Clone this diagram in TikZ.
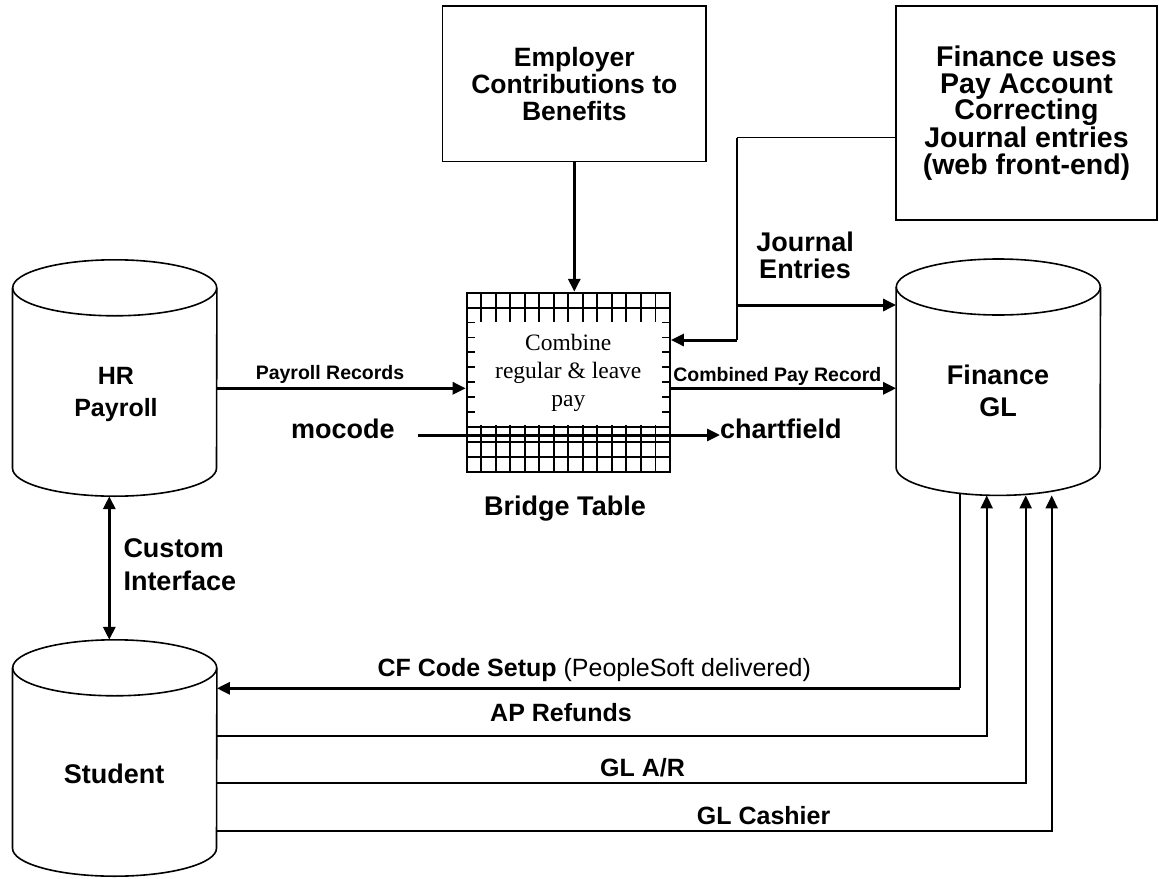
\documentclass[tikz,border=0pt]{standalone}
\usepackage{fontspec}
\setmainfont{Liberation Sans}
\newfontfamily\romanface{Liberation Serif}
\usetikzlibrary{arrows.meta}

\newcommand{\fsz}[2]{\fontsize{#1}{#2}\selectfont}
\newcommand{\dbdraw}[1]{%
  \draw[dbline] ([yshift=-28pt]#1.north west) -- ([yshift=28pt]#1.south west)
    arc[start angle=180,end angle=360,x radius=102pt,y radius=28pt]
    -- ([yshift=-28pt]#1.north east);
  \draw[dbline] ([yshift=-28pt]#1.north) ellipse[x radius=102pt,y radius=28pt];}

\begin{document}
\begin{tikzpicture}[x=1pt,y=-1pt,
    flow/.style={line width=3pt,-{Triangle[length=13pt,width=12pt]}},
    retflow/.style={line width=2.2pt,-{Triangle[length=13pt,width=12pt]}},
    twoway/.style={line width=3pt,{Triangle[length=13pt,width=12pt]}-{Triangle[length=13pt,width=12pt]}},
    plainline/.style={line width=2pt},
    dbbody/.style={minimum width=204pt,minimum height=236pt,inner sep=0pt},
    dbline/.style={line width=1.6pt},
    srcbox/.style={draw,line width=1.6pt,align=center,inner sep=0pt},
    gridline/.style={line width=1.9pt},
    biglabel/.style={font=\bfseries\fsz{27}{27},inner sep=0pt},
    smalllabel/.style={font=\bfseries\fsz{19.5}{19.5},inner sep=0pt},
    flowlabel/.style={font=\bfseries\fsz{25}{25},inner sep=0pt}]
  \useasboundingbox (0,0) rectangle (1159,878);

  % source boxes
  \node[srcbox,minimum width=263.3pt,minimum height=155.7pt,font=\bfseries\fsz{26.5}{27}] (emp) at (574.3,83.8)
    {Employer\\Contributions to\\Benefits};
  \node[srcbox,minimum width=261pt,minimum height=214pt,font=\bfseries\fsz{28.5}{26.6}] (fbox) at (1026.5,113)
    {Finance uses\\Pay Account\\Correcting\\Journal entries\\(web front-end)};

  % databases
  \node[dbbody] (hr) at (114.7,378) {};
  \node[dbbody] (fin) at (998.3,377.2) {};
  \node[dbbody] (stu) at (114.7,758) {};
  \foreach \db in {hr,fin,stu} {\dbdraw{\db}}
  \node[align=center,inner sep=0pt,font=\bfseries\fsz{25}{31.5}] (hrname) at (116,394.5) {HR\\Payroll};
  \node[align=center,inner sep=0pt,font=\bfseries\fsz{27}{32.5}] (finname) at (998,390.7) {Finance\\GL};
  \node[biglabel,anchor=base] (stuname) at (114,783) {Student};

  % bridge table
  \node[draw,line width=1.9pt,minimum width=203.3pt,minimum height=179pt,inner sep=0pt] (bridge) at (568.3,382.2) {};
  \foreach \c in {1,...,13}
    \draw[gridline] ({466.7+\c*14.52},292.7) -- ({466.7+\c*14.52},471.7);
  \foreach \r in {1,...,11}
    \draw[gridline] (466.7,{292.7+\r*14.92}) -- (670,{292.7+\r*14.92});
  \node[fill=white,minimum width=187.5pt,minimum height=103pt,inner sep=0pt,align=center,
    font=\romanface\fsz{23.5}{28.3}] (combine) at (568.3,373) {Combine\\regular \& leave\\pay};
  \node[biglabel,anchor=base] (bridgename) at (565,515) {Bridge Table};

  % payroll feed
  \draw[flow] (emp.south) -- (emp.south |- bridge.north);
  \coordinate (prout) at ([yshift=-10.3pt]hr.east);
  \draw[flow] (prout) -- (prout -| bridge.west);
  \node[smalllabel,anchor=base] (prname) at (330,379.3) {Payroll Records};
  \coordinate (cprout) at ([yshift=-6.1pt]bridge.east);
  \draw[flow] (cprout) -- (cprout -| fin.west);
  \node[smalllabel,anchor=base] (cprname) at (777.3,381.7) {Combined Pay Record};
  \node[biglabel,anchor=base] (mocode) at (342.8,438.3) {mocode};
  \node[biglabel,anchor=base west] (chart) at (720,438.3) {chartfield};
  \coordinate (mocodeout) at (418.3,435);
  \draw[flow] (mocodeout) -- (mocodeout -| chart.west);

  % journal entries
  \coordinate (jtop) at (736.7,137.7);
  \coordinate (jmid) at (736.7,305);
  \coordinate (jbot) at (736.7,340);
  \draw[line width=1.5pt] (jtop -| fbox.west) -- (jtop);
  \draw[plainline] (jtop) -- (jbot);
  \draw[flow] (jmid) -- (jmid -| fin.west);
  \draw[flow] (jbot) -- (jbot -| bridge.east);
  \node[align=center,inner sep=0pt,font=\bfseries\fsz{27}{26.5}] (jename) at (805,255.2) {Journal\\Entries};

  % custom interface
  \draw[twoway] ([xshift=-5.4pt]hr.south) -- ([xshift=-5.4pt]stu.north);
  \node[align=left,anchor=west,inner sep=0pt,font=\bfseries\fsz{27}{33.4}] (ciname) at (123.3,564.4) {Custom\\Interface};

  % student <-> finance
  \coordinate (cftop) at (960,494);
  \coordinate (cfturn) at (960,688.3);
  \draw[line width=1.7pt] (cftop) -- (cfturn);
  \draw[flow] (cfturn) -- (cfturn -| stu.east);
  \node[flowlabel,anchor=base west] (cfname) at (377.3,676) {CF Code Setup \mdseries(PeopleSoft delivered)};
  \foreach \yy/\xx/\ret in {736/986.7/ap,783.3/1025.7/ar,830.7/1051.7/cash} {
    \coordinate (ret\ret) at (\xx,\yy);
    \draw[retflow] (stu.east |- ret\ret) -| (ret\ret |- fin.south);
  }
  \node[flowlabel,anchor=base west] (apname) at (490,721.7) {AP Refunds};
  \node[flowlabel,anchor=base west] (arname) at (600,776) {GL A/R};
  \node[flowlabel,anchor=base west] (cashname) at (696.7,824) {GL Cashier};
\end{tikzpicture}
\end{document}
